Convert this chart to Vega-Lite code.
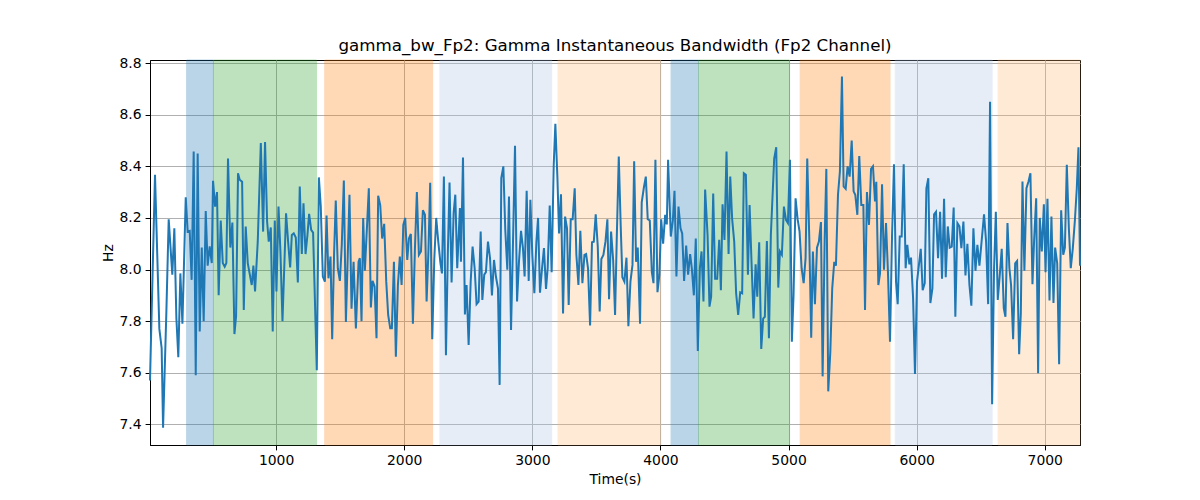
{
  "$schema": "https://vega.github.io/schema/vega-lite/v6.json",
  "description": "Gamma instantaneous bandwidth of the Fp2 channel over time, with shaded stage bands.",
  "width": 930,
  "height": 385,
  "autosize": {"type": "none"},
  "padding": {"left": 150, "top": 60, "right": 120, "bottom": 55},
  "background": "white",
  "title": {
    "text": "gamma_bw_Fp2: Gamma Instantaneous Bandwidth (Fp2 Channel)",
    "font": "DejaVu Sans",
    "fontSize": 16.7,
    "fontWeight": "normal",
    "color": "black",
    "offset": 1
  },
  "datasets": {
    "bands": [
      {"start": 302, "end": 511, "state": "a"},
      {"start": 511, "end": 1316, "state": "b"},
      {"start": 1380, "end": 2222, "state": "c"},
      {"start": 2279, "end": 3151, "state": "d"},
      {"start": 3201, "end": 4003, "state": "e"},
      {"start": 4083, "end": 4297, "state": "a"},
      {"start": 4297, "end": 5008, "state": "b"},
      {"start": 5091, "end": 5792, "state": "c"},
      {"start": 5833, "end": 6589, "state": "d"},
      {"start": 6636, "end": 7275, "state": "e"}
    ],
    "signal": [
      {"t": 16, "hz": 7.57}, {"t": 55, "hz": 8.367}, {"t": 89, "hz": 7.77}, {"t": 107, "hz": 7.695},
      {"t": 118, "hz": 7.387}, {"t": 144, "hz": 7.84}, {"t": 162, "hz": 8.195}, {"t": 190, "hz": 7.98},
      {"t": 206, "hz": 8.16}, {"t": 222, "hz": 7.81}, {"t": 237, "hz": 7.66}, {"t": 253, "hz": 7.985},
      {"t": 269, "hz": 7.79}, {"t": 295, "hz": 8.28}, {"t": 310, "hz": 8.147}, {"t": 326, "hz": 8.15},
      {"t": 341, "hz": 7.96}, {"t": 357, "hz": 8.457}, {"t": 373, "hz": 7.59}, {"t": 388, "hz": 8.45},
      {"t": 404, "hz": 7.76}, {"t": 420, "hz": 8.085}, {"t": 435, "hz": 7.8}, {"t": 451, "hz": 8.227},
      {"t": 466, "hz": 8.015}, {"t": 482, "hz": 8.09}, {"t": 498, "hz": 8.025}, {"t": 508, "hz": 8.344},
      {"t": 524, "hz": 8.244}, {"t": 539, "hz": 8.3}, {"t": 552, "hz": 7.9}, {"t": 568, "hz": 8.19},
      {"t": 584, "hz": 8.025}, {"t": 599, "hz": 8.011}, {"t": 612, "hz": 8.025}, {"t": 625, "hz": 8.43},
      {"t": 643, "hz": 8.085}, {"t": 659, "hz": 8.182}, {"t": 675, "hz": 7.75}, {"t": 688, "hz": 7.82},
      {"t": 703, "hz": 8.373}, {"t": 716, "hz": 8.348}, {"t": 735, "hz": 8.34}, {"t": 748, "hz": 7.843},
      {"t": 763, "hz": 8.167}, {"t": 779, "hz": 8.025}, {"t": 810, "hz": 7.94}, {"t": 823, "hz": 8.015},
      {"t": 836, "hz": 7.915}, {"t": 857, "hz": 8.108}, {"t": 881, "hz": 8.49}, {"t": 899, "hz": 8.147},
      {"t": 914, "hz": 8.494}, {"t": 930, "hz": 8.186}, {"t": 943, "hz": 8.108}, {"t": 959, "hz": 8.163},
      {"t": 974, "hz": 7.76}, {"t": 990, "hz": 8.19}, {"t": 1003, "hz": 7.915}, {"t": 1019, "hz": 8.244},
      {"t": 1034, "hz": 8.07}, {"t": 1050, "hz": 7.8}, {"t": 1078, "hz": 8.218}, {"t": 1094, "hz": 8.108},
      {"t": 1110, "hz": 8.008}, {"t": 1123, "hz": 8.134}, {"t": 1138, "hz": 8.14}, {"t": 1154, "hz": 8.124},
      {"t": 1170, "hz": 7.95}, {"t": 1185, "hz": 8.322}, {"t": 1201, "hz": 8.06}, {"t": 1214, "hz": 8.257},
      {"t": 1230, "hz": 8.06}, {"t": 1245, "hz": 8.134}, {"t": 1258, "hz": 8.216}, {"t": 1274, "hz": 8.154},
      {"t": 1289, "hz": 8.143}, {"t": 1318, "hz": 7.61}, {"t": 1334, "hz": 8.357}, {"t": 1349, "hz": 8.244},
      {"t": 1365, "hz": 7.973}, {"t": 1381, "hz": 7.953}, {"t": 1394, "hz": 8.209}, {"t": 1409, "hz": 7.966},
      {"t": 1425, "hz": 8.05}, {"t": 1438, "hz": 7.73}, {"t": 1453, "hz": 8.063}, {"t": 1466, "hz": 8.267},
      {"t": 1482, "hz": 8.005}, {"t": 1498, "hz": 7.956}, {"t": 1513, "hz": 8.096}, {"t": 1529, "hz": 8.345},
      {"t": 1545, "hz": 7.797}, {"t": 1573, "hz": 8.29}, {"t": 1589, "hz": 7.848}, {"t": 1605, "hz": 8.03},
      {"t": 1623, "hz": 7.772}, {"t": 1644, "hz": 8.03}, {"t": 1654, "hz": 8.044}, {"t": 1667, "hz": 7.8},
      {"t": 1680, "hz": 8.2}, {"t": 1693, "hz": 7.995}, {"t": 1709, "hz": 8.16}, {"t": 1724, "hz": 8.315},
      {"t": 1740, "hz": 7.853}, {"t": 1753, "hz": 7.956}, {"t": 1769, "hz": 7.934}, {"t": 1784, "hz": 7.734},
      {"t": 1797, "hz": 8.286}, {"t": 1813, "hz": 8.25}, {"t": 1828, "hz": 8.12}, {"t": 1844, "hz": 8.177},
      {"t": 1860, "hz": 7.953}, {"t": 1875, "hz": 7.824}, {"t": 1891, "hz": 7.772}, {"t": 1904, "hz": 7.772},
      {"t": 1920, "hz": 8.03}, {"t": 1935, "hz": 7.662}, {"t": 1951, "hz": 7.94}, {"t": 1966, "hz": 8.05},
      {"t": 1980, "hz": 7.94}, {"t": 1993, "hz": 8.173}, {"t": 2008, "hz": 8.2}, {"t": 2024, "hz": 8.037},
      {"t": 2037, "hz": 8.12}, {"t": 2052, "hz": 8.138}, {"t": 2068, "hz": 7.79}, {"t": 2084, "hz": 8.083},
      {"t": 2099, "hz": 8.3}, {"t": 2115, "hz": 8.057}, {"t": 2131, "hz": 8.07}, {"t": 2146, "hz": 8.23},
      {"t": 2162, "hz": 8.212}, {"t": 2175, "hz": 7.876}, {"t": 2190, "hz": 8.083}, {"t": 2203, "hz": 8.336},
      {"t": 2219, "hz": 7.73}, {"t": 2235, "hz": 8.04}, {"t": 2250, "hz": 8.2}, {"t": 2266, "hz": 8.108},
      {"t": 2282, "hz": 8.03}, {"t": 2295, "hz": 7.985}, {"t": 2310, "hz": 8.36}, {"t": 2326, "hz": 7.668},
      {"t": 2341, "hz": 8.07}, {"t": 2354, "hz": 8.337}, {"t": 2370, "hz": 7.95}, {"t": 2386, "hz": 8.22},
      {"t": 2399, "hz": 8.29}, {"t": 2414, "hz": 8.005}, {"t": 2435, "hz": 8.238}, {"t": 2443, "hz": 8.03},
      {"t": 2459, "hz": 8.434}, {"t": 2474, "hz": 7.826}, {"t": 2487, "hz": 7.94}, {"t": 2503, "hz": 7.708},
      {"t": 2519, "hz": 7.953}, {"t": 2534, "hz": 8.089}, {"t": 2550, "hz": 8.005}, {"t": 2565, "hz": 7.866},
      {"t": 2581, "hz": 7.876}, {"t": 2597, "hz": 8.147}, {"t": 2610, "hz": 7.882}, {"t": 2625, "hz": 7.98},
      {"t": 2638, "hz": 7.99}, {"t": 2654, "hz": 8.108}, {"t": 2670, "hz": 8.044}, {"t": 2685, "hz": 7.9},
      {"t": 2701, "hz": 8.037}, {"t": 2716, "hz": 7.973}, {"t": 2732, "hz": 7.927}, {"t": 2745, "hz": 7.553},
      {"t": 2758, "hz": 8.354}, {"t": 2774, "hz": 8.4}, {"t": 2789, "hz": 8.154}, {"t": 2805, "hz": 7.999},
      {"t": 2818, "hz": 8.283}, {"t": 2834, "hz": 7.766}, {"t": 2849, "hz": 8.096}, {"t": 2865, "hz": 8.48},
      {"t": 2881, "hz": 7.876}, {"t": 2896, "hz": 8.03}, {"t": 2912, "hz": 8.15}, {"t": 2927, "hz": 8.083},
      {"t": 2940, "hz": 7.973}, {"t": 2956, "hz": 8.305}, {"t": 2972, "hz": 7.956}, {"t": 2985, "hz": 8.27},
      {"t": 3000, "hz": 8.057}, {"t": 3016, "hz": 7.908}, {"t": 3032, "hz": 8.108}, {"t": 3045, "hz": 8.2},
      {"t": 3060, "hz": 7.91}, {"t": 3076, "hz": 8.005}, {"t": 3091, "hz": 8.083}, {"t": 3107, "hz": 7.925},
      {"t": 3120, "hz": 8.005}, {"t": 3136, "hz": 8.248}, {"t": 3151, "hz": 7.99}, {"t": 3167, "hz": 8.403},
      {"t": 3180, "hz": 8.565}, {"t": 3196, "hz": 8.354}, {"t": 3209, "hz": 8.14}, {"t": 3224, "hz": 8.292},
      {"t": 3240, "hz": 7.83}, {"t": 3256, "hz": 8.205}, {"t": 3271, "hz": 8.16}, {"t": 3284, "hz": 7.863},
      {"t": 3300, "hz": 8.195}, {"t": 3315, "hz": 8.195}, {"t": 3331, "hz": 8.315}, {"t": 3344, "hz": 8.057},
      {"t": 3360, "hz": 7.94}, {"t": 3375, "hz": 8.15}, {"t": 3391, "hz": 7.947}, {"t": 3407, "hz": 8.057},
      {"t": 3420, "hz": 8.06}, {"t": 3435, "hz": 8.005}, {"t": 3451, "hz": 7.783}, {"t": 3466, "hz": 8.106},
      {"t": 3480, "hz": 8.108}, {"t": 3495, "hz": 8.214}, {"t": 3511, "hz": 8.089}, {"t": 3526, "hz": 7.837},
      {"t": 3539, "hz": 8.041}, {"t": 3555, "hz": 8.057}, {"t": 3571, "hz": 8.108}, {"t": 3586, "hz": 8.195},
      {"t": 3599, "hz": 7.885}, {"t": 3615, "hz": 8.147}, {"t": 3631, "hz": 8.037}, {"t": 3646, "hz": 7.824},
      {"t": 3659, "hz": 8.115}, {"t": 3675, "hz": 8.438}, {"t": 3690, "hz": 8.17}, {"t": 3703, "hz": 7.97},
      {"t": 3719, "hz": 7.953}, {"t": 3735, "hz": 8.046}, {"t": 3750, "hz": 7.78}, {"t": 3766, "hz": 7.953},
      {"t": 3782, "hz": 8.018}, {"t": 3795, "hz": 8.42}, {"t": 3810, "hz": 8.03}, {"t": 3823, "hz": 8.085},
      {"t": 3841, "hz": 7.79}, {"t": 3854, "hz": 8.26}, {"t": 3870, "hz": 8.315}, {"t": 3886, "hz": 8.36},
      {"t": 3901, "hz": 8.195}, {"t": 3917, "hz": 8.19}, {"t": 3933, "hz": 7.99}, {"t": 3946, "hz": 7.947},
      {"t": 3961, "hz": 8.425}, {"t": 3977, "hz": 7.912}, {"t": 3992, "hz": 7.98}, {"t": 4006, "hz": 8.195},
      {"t": 4021, "hz": 8.1}, {"t": 4037, "hz": 8.212}, {"t": 4050, "hz": 8.175}, {"t": 4060, "hz": 8.425},
      {"t": 4081, "hz": 8.128}, {"t": 4097, "hz": 8.19}, {"t": 4110, "hz": 8.305}, {"t": 4125, "hz": 7.973},
      {"t": 4141, "hz": 8.244}, {"t": 4157, "hz": 8.16}, {"t": 4170, "hz": 8.14}, {"t": 4185, "hz": 7.956},
      {"t": 4201, "hz": 8.093}, {"t": 4216, "hz": 7.98}, {"t": 4232, "hz": 8.06}, {"t": 4245, "hz": 8.005},
      {"t": 4261, "hz": 7.9}, {"t": 4276, "hz": 8.12}, {"t": 4292, "hz": 7.684}, {"t": 4308, "hz": 8.005},
      {"t": 4321, "hz": 8.07}, {"t": 4336, "hz": 7.876}, {"t": 4349, "hz": 8.31}, {"t": 4368, "hz": 8.134},
      {"t": 4383, "hz": 7.856}, {"t": 4396, "hz": 7.895}, {"t": 4412, "hz": 8.295}, {"t": 4427, "hz": 7.964},
      {"t": 4443, "hz": 7.964}, {"t": 4459, "hz": 8.115}, {"t": 4472, "hz": 7.92}, {"t": 4485, "hz": 8.253},
      {"t": 4500, "hz": 8.115}, {"t": 4516, "hz": 8.457}, {"t": 4532, "hz": 8.06}, {"t": 4545, "hz": 8.36},
      {"t": 4560, "hz": 8.195}, {"t": 4576, "hz": 8.108}, {"t": 4591, "hz": 7.908}, {"t": 4607, "hz": 7.824},
      {"t": 4623, "hz": 7.912}, {"t": 4638, "hz": 7.908}, {"t": 4651, "hz": 8.373}, {"t": 4667, "hz": 8.367},
      {"t": 4683, "hz": 7.98}, {"t": 4696, "hz": 8.25}, {"t": 4711, "hz": 8.03}, {"t": 4727, "hz": 7.81},
      {"t": 4743, "hz": 8.02}, {"t": 4756, "hz": 7.895}, {"t": 4771, "hz": 8.106}, {"t": 4787, "hz": 7.692},
      {"t": 4802, "hz": 7.81}, {"t": 4815, "hz": 7.817}, {"t": 4831, "hz": 8.11}, {"t": 4847, "hz": 7.734},
      {"t": 4862, "hz": 8.134}, {"t": 4888, "hz": 8.43}, {"t": 4904, "hz": 8.474}, {"t": 4920, "hz": 7.93},
      {"t": 4933, "hz": 8.07}, {"t": 4948, "hz": 8.057}, {"t": 4964, "hz": 8.244}, {"t": 4980, "hz": 8.192},
      {"t": 4995, "hz": 8.18}, {"t": 5011, "hz": 8.425}, {"t": 5026, "hz": 7.72}, {"t": 5039, "hz": 7.9},
      {"t": 5055, "hz": 8.276}, {"t": 5071, "hz": 8.195}, {"t": 5086, "hz": 8.147}, {"t": 5102, "hz": 8.005},
      {"t": 5118, "hz": 7.947}, {"t": 5133, "hz": 8.044}, {"t": 5146, "hz": 8.43}, {"t": 5162, "hz": 8.12},
      {"t": 5177, "hz": 7.736}, {"t": 5190, "hz": 8.07}, {"t": 5206, "hz": 7.866}, {"t": 5222, "hz": 8.085},
      {"t": 5237, "hz": 8.108}, {"t": 5253, "hz": 8.184}, {"t": 5266, "hz": 7.586}, {"t": 5282, "hz": 8.115},
      {"t": 5295, "hz": 8.39}, {"t": 5310, "hz": 7.528}, {"t": 5326, "hz": 7.68}, {"t": 5341, "hz": 7.927},
      {"t": 5357, "hz": 8.03}, {"t": 5370, "hz": 8.015}, {"t": 5386, "hz": 8.29}, {"t": 5401, "hz": 8.38},
      {"t": 5417, "hz": 8.748}, {"t": 5430, "hz": 8.322}, {"t": 5446, "hz": 8.313}, {"t": 5461, "hz": 8.4},
      {"t": 5477, "hz": 8.36}, {"t": 5493, "hz": 8.5}, {"t": 5508, "hz": 8.303}, {"t": 5521, "hz": 8.29},
      {"t": 5537, "hz": 8.212}, {"t": 5552, "hz": 8.44}, {"t": 5568, "hz": 8.25}, {"t": 5584, "hz": 8.25},
      {"t": 5597, "hz": 7.843}, {"t": 5612, "hz": 8.3}, {"t": 5628, "hz": 8.173}, {"t": 5644, "hz": 8.39},
      {"t": 5659, "hz": 8.4}, {"t": 5675, "hz": 8.264}, {"t": 5685, "hz": 8.34}, {"t": 5701, "hz": 7.94},
      {"t": 5714, "hz": 7.985}, {"t": 5730, "hz": 8.33}, {"t": 5745, "hz": 7.999}, {"t": 5761, "hz": 8.18},
      {"t": 5776, "hz": 7.99}, {"t": 5792, "hz": 7.72}, {"t": 5808, "hz": 8.134}, {"t": 5823, "hz": 8.408},
      {"t": 5839, "hz": 7.953}, {"t": 5852, "hz": 7.866}, {"t": 5868, "hz": 8.128}, {"t": 5883, "hz": 8.128},
      {"t": 5899, "hz": 8.408}, {"t": 5914, "hz": 8.005}, {"t": 5927, "hz": 8.096}, {"t": 5943, "hz": 8.02},
      {"t": 5956, "hz": 8.046}, {"t": 5972, "hz": 7.891}, {"t": 5987, "hz": 7.595}, {"t": 6003, "hz": 7.953},
      {"t": 6019, "hz": 8.024}, {"t": 6032, "hz": 8.08}, {"t": 6047, "hz": 7.92}, {"t": 6063, "hz": 7.947},
      {"t": 6076, "hz": 8.315}, {"t": 6091, "hz": 8.354}, {"t": 6107, "hz": 7.87}, {"t": 6123, "hz": 7.927},
      {"t": 6136, "hz": 8.214}, {"t": 6151, "hz": 8.224}, {"t": 6167, "hz": 8.044}, {"t": 6183, "hz": 8.224},
      {"t": 6198, "hz": 7.964}, {"t": 6214, "hz": 8.274}, {"t": 6227, "hz": 7.97}, {"t": 6243, "hz": 8.167},
      {"t": 6258, "hz": 8.085}, {"t": 6274, "hz": 8.089}, {"t": 6289, "hz": 8.24}, {"t": 6302, "hz": 7.817},
      {"t": 6318, "hz": 8.18}, {"t": 6334, "hz": 8.167}, {"t": 6349, "hz": 8.083}, {"t": 6365, "hz": 8.186},
      {"t": 6381, "hz": 7.977}, {"t": 6396, "hz": 8.1}, {"t": 6412, "hz": 7.94}, {"t": 6427, "hz": 7.86},
      {"t": 6443, "hz": 8.16}, {"t": 6459, "hz": 7.995}, {"t": 6474, "hz": 8.096}, {"t": 6490, "hz": 8.015},
      {"t": 6526, "hz": 8.214}, {"t": 6542, "hz": 8.108}, {"t": 6558, "hz": 7.866}, {"t": 6573, "hz": 8.65},
      {"t": 6589, "hz": 7.478}, {"t": 6604, "hz": 8.0}, {"t": 6618, "hz": 8.224}, {"t": 6633, "hz": 7.882},
      {"t": 6649, "hz": 7.98}, {"t": 6664, "hz": 8.08}, {"t": 6680, "hz": 7.85}, {"t": 6693, "hz": 7.817},
      {"t": 6709, "hz": 8.18}, {"t": 6724, "hz": 8.005}, {"t": 6737, "hz": 7.94}, {"t": 6753, "hz": 7.73},
      {"t": 6769, "hz": 8.024}, {"t": 6784, "hz": 8.033}, {"t": 6800, "hz": 7.672}, {"t": 6813, "hz": 7.83},
      {"t": 6826, "hz": 8.341}, {"t": 6841, "hz": 7.995}, {"t": 6857, "hz": 8.315}, {"t": 6873, "hz": 8.341},
      {"t": 6888, "hz": 8.373}, {"t": 6904, "hz": 7.943}, {"t": 6917, "hz": 8.115}, {"t": 6933, "hz": 8.276},
      {"t": 6948, "hz": 7.598}, {"t": 6961, "hz": 8.2}, {"t": 6977, "hz": 8.07}, {"t": 6993, "hz": 8.253},
      {"t": 7006, "hz": 7.99}, {"t": 7021, "hz": 8.274}, {"t": 7037, "hz": 7.88}, {"t": 7052, "hz": 8.205},
      {"t": 7068, "hz": 7.87}, {"t": 7081, "hz": 8.085}, {"t": 7097, "hz": 8.024}, {"t": 7112, "hz": 7.633},
      {"t": 7128, "hz": 8.23}, {"t": 7144, "hz": 8.057}, {"t": 7157, "hz": 8.085}, {"t": 7172, "hz": 8.406},
      {"t": 7188, "hz": 8.16}, {"t": 7203, "hz": 8.005}, {"t": 7219, "hz": 8.083}, {"t": 7235, "hz": 8.19},
      {"t": 7250, "hz": 8.315}, {"t": 7263, "hz": 8.474}, {"t": 7275, "hz": 8.015}
    ]
  },
  "layer": [
    {
      "data": {"name": "bands"},
      "mark": {"type": "rect", "opacity": 0.3, "strokeWidth": 1},
      "encoding": {
        "x": {
          "field": "start",
          "type": "quantitative",
          "title": "Time(s)",
          "scale": {"domain": [16, 7275], "nice": false, "zero": false}
        },
        "x2": {"field": "end"},
        "fill": {
          "field": "state",
          "type": "nominal",
          "legend": null,
          "scale": {
            "domain": ["a", "b", "c", "d", "e"],
            "range": ["#1f77b4", "#2ca02c", "#ff7f0e", "#aec7e8", "#ffbb78"]
          }
        },
        "stroke": {
          "field": "state",
          "type": "nominal",
          "legend": null,
          "scale": {
            "domain": ["a", "b", "c", "d", "e"],
            "range": ["#1f77b4", "#2ca02c", "#ff7f0e", "#aec7e8", "#ffbb78"]
          }
        }
      }
    },
    {
      "data": {"name": "signal"},
      "mark": {"type": "line", "color": "#1f77b4", "strokeWidth": 2},
      "encoding": {
        "x": {
          "field": "t",
          "type": "quantitative",
          "title": "Time(s)",
          "axis": {"values": [1000, 2000, 3000, 4000, 5000, 6000, 7000], "format": "d", "titlePadding": 5}
        },
        "y": {
          "field": "hz",
          "type": "quantitative",
          "title": "Hz",
          "scale": {"domain": [7.32, 8.812], "nice": false, "zero": false},
          "axis": {"values": [7.4, 7.6, 7.8, 8.0, 8.2, 8.4, 8.6, 8.8], "format": ".1f", "titlePadding": 4}
        }
      }
    }
  ],
  "config": {
    "view": {"stroke": "black", "strokeWidth": 1},
    "axis": {
      "zindex": 1,
      "labelFont": "DejaVu Sans",
      "labelFontSize": 13.9,
      "labelColor": "black",
      "titleFont": "DejaVu Sans",
      "titleFontSize": 13.9,
      "titleFontWeight": "normal",
      "titleColor": "black",
      "domainColor": "black",
      "tickColor": "black",
      "tickSize": 4.9,
      "labelPadding": 4,
      "gridColor": "#b0b0b0",
      "gridWidth": 1,
      "gridOpacity": 1,
      "labelFlush": false
    }
  }
}
